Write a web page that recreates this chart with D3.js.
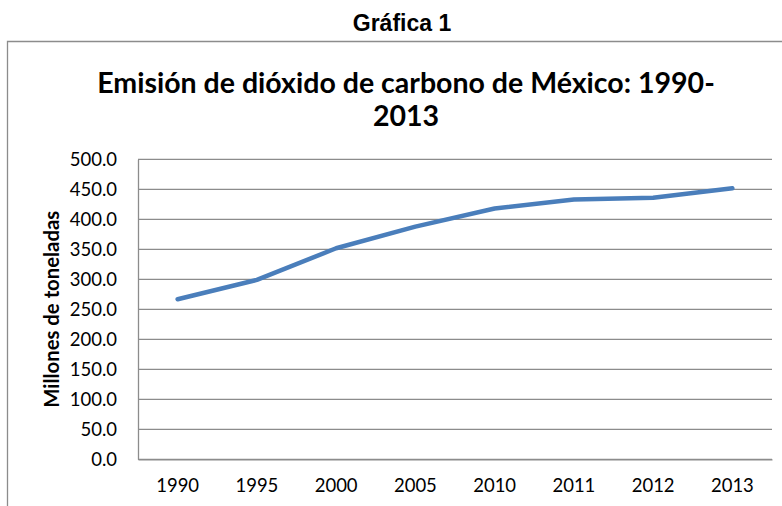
<!DOCTYPE html>
<html lang="es">
<head>
<meta charset="utf-8">
<title>Gráfica 1</title>
<script src="https://d3js.org/d3.v7.min.js"></script>
<style>
  html, body { margin: 0; padding: 0; background: #fff; }
  svg { display: block; }
</style>
</head>
<body>
<chart></chart>
<script>
// values
const years = ["1990", "1995", "2000", "2005", "2010", "2011", "2012", "2013"];
const emissions = [266.7, 299.0, 351.7, 387.7, 418.0, 433.0, 436.0, 451.7];
const yTicks = [0, 50, 100, 150, 200, 250, 300, 350, 400, 450, 500];

const W = 782, H = 506;
const plot = { left: 138, right: 772, top: 159.3, bottom: 459.3 };

const svg = d3.select("chart").append("svg")
  .attr("width", W)
  .attr("height", H);

// page heading above the chart frame
svg.append("text")
  .attr("x", 402)
  .attr("y", 31)
  .attr("text-anchor", "middle")
  .style("font-family", "'Liberation Sans', Arial, sans-serif")
  .style("font-weight", "bold")
  .style("font-size", "23px")
  .text("Gráfica 1");

// chart frame (only top and left visible in the crop)
svg.append("path")
  .attr("d", "M7.5," + H + "V41.5H" + W)
  .attr("fill", "none")
  .attr("stroke", "#8c8c8c")
  .attr("stroke-width", 1.3);

// chart title on two lines, fitted to the reference width
const titleFont = "Lato, 'Open Sans', sans-serif";
const t1 = svg.append("text")
  .attr("x", 406)
  .attr("y", 93)
  .attr("text-anchor", "middle")
  .style("font-family", titleFont)
  .style("font-weight", "bold")
  .style("font-size", "26px")
  .text("Emisión de dióxido de carbono de México: 1990-");
const fit = 26 * 618 / t1.node().getComputedTextLength();
t1.style("font-size", fit + "px");
svg.append("text")
  .attr("x", 406)
  .attr("y", 126)
  .attr("text-anchor", "middle")
  .style("font-family", titleFont)
  .style("font-weight", "bold")
  .style("font-size", fit + "px")
  .text("2013");

// scales
const x = d3.scaleBand()
  .domain(years)
  .range([plot.left, plot.right]);

const y = d3.scaleLinear()
  .domain([0, 500])
  .range([plot.bottom, plot.top]);

// horizontal gridlines
svg.append("g")
  .selectAll("line")
  .data(yTicks)
  .join("line")
  .attr("x1", plot.left)
  .attr("x2", plot.right)
  .attr("y1", d => y(d))
  .attr("y2", d => y(d))
  .attr("stroke", "#8c8c8c")
  .attr("stroke-width", 1.3);

// y axis
const yAxis = d3.axisLeft(y)
  .tickValues(yTicks)
  .tickFormat(d3.format(".1f"))
  .tickSize(0)
  .tickPadding(21);

svg.append("g")
  .attr("transform", "translate(" + plot.left + ",0)")
  .call(yAxis)
  .call(g => g.select(".domain").attr("stroke", "#8c8c8c").attr("stroke-width", 1.3))
  .call(g => g.selectAll("text")
    .style("font-family", "Lato, sans-serif")
    .style("font-size", "18.5px")
    .attr("fill", "#000"));

// x axis
const xAxis = d3.axisBottom(x)
  .tickSize(0)
  .tickPadding(20);

svg.append("g")
  .attr("transform", "translate(0," + plot.bottom + ")")
  .call(xAxis)
  .call(g => g.select(".domain").attr("stroke", "#8c8c8c").attr("stroke-width", 1.3))
  .call(g => g.selectAll("text")
    .style("font-family", "Lato, sans-serif")
    .style("font-size", "18.5px")
    .attr("fill", "#000"));

// y axis title, fitted to the reference length
const yTitle = svg.append("text")
  .attr("transform", "translate(59," + ((plot.top + plot.bottom) / 2) + ") rotate(-90)")
  .attr("text-anchor", "middle")
  .style("font-family", "Lato, sans-serif")
  .style("font-weight", "bold")
  .style("font-size", "17px")
  .text("Millones de toneladas");
yTitle.style("font-size", (17 * 197 / yTitle.node().getComputedTextLength()) + "px");

// emissions line
const line = d3.line()
  .x((d, i) => x(years[i]) + x.bandwidth() / 2)
  .y(d => y(d));

svg.append("path")
  .datum(emissions)
  .attr("d", line)
  .attr("fill", "none")
  .attr("stroke", "#4a7ebb")
  .attr("stroke-width", 4.5)
  .attr("stroke-linejoin", "round")
  .attr("stroke-linecap", "round");
</script>
</body>
</html>
